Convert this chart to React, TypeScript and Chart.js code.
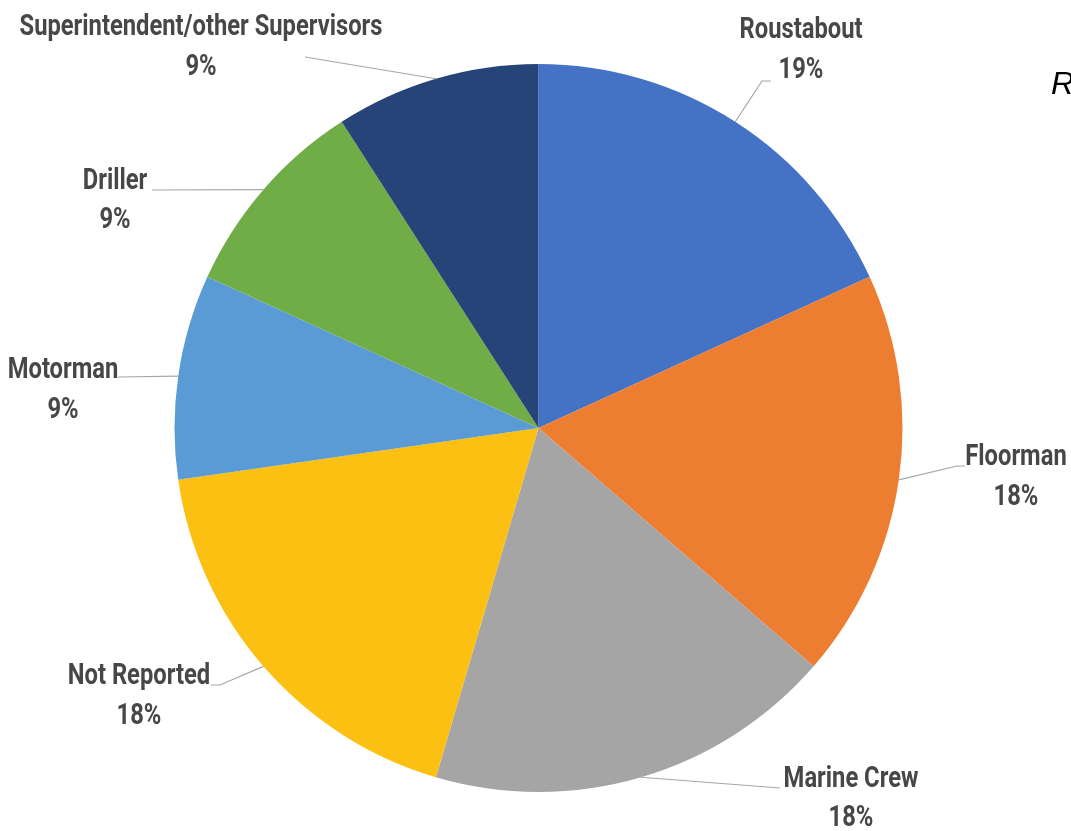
import React, { useEffect, useRef } from "react";
import { Chart, registerables } from "chart.js";

Chart.register(...registerables);

const categories = [
  "Roustabout",
  "Floorman",
  "Marine Crew",
  "Not Reported",
  "Motorman",
  "Driller",
  "Superintendent/other Supervisors",
];
const counts = [2, 2, 2, 2, 1, 1, 1];
const percentLabels = ["19%", "18%", "18%", "18%", "9%", "9%", "9%"];
const colors = ["#4472C4", "#ED7D31", "#A5A5A5", "#FBC012", "#5B9BD5", "#70AD47", "#264478"];

// label layout: text centre x, name baseline, percent baseline, leader-line points (after the pie edge point)
const labelLayout = [
  { x: 801, y1: 38, y2: 78, pts: [[762, 81], [771, 81]] },
  { x: 1016, y1: 465, y2: 505, pts: [[957, 466], [965, 466]] },
  { x: 851, y1: 787, y2: 826, pts: [[780, 788]] },
  { x: 139, y1: 684, y2: 724, pts: [[220, 685], [211, 685]] },
  { x: 63, y1: 378, y2: 418, pts: [[118, 377]] },
  { x: 115, y1: 189, y2: 228, pts: [[152, 190]] },
  { x: 201, y1: 35, y2: 75, pts: [[305, 57]] },
];

const labelFont = "bold 30px Roboto, 'DejaVu Sans', sans-serif";
const longestLabelWidth = 363; // condensed look: widest label's drawn width

const labelPlugin = {
  id: "pieLabels",
  afterDraw(chart: any) {
    const ctx = chart.ctx;
    const meta = chart.getDatasetMeta(0);
    ctx.save();
    ctx.font = labelFont;
    const sx = longestLabelWidth / ctx.measureText(categories[6]).width;
    meta.data.forEach((arc: any, i: number) => {
      const p = arc.getProps(["x", "y", "startAngle", "endAngle", "outerRadius"], true);
      const mid = (p.startAngle + p.endAngle) / 2;
      const ex = p.x + Math.cos(mid) * p.outerRadius;
      const ey = p.y + Math.sin(mid) * p.outerRadius;
      const L = labelLayout[i];
      ctx.strokeStyle = "#A6A6A6";
      ctx.lineWidth = 1.2;
      ctx.beginPath();
      ctx.moveTo(ex, ey);
      L.pts.forEach((pt) => ctx.lineTo(pt[0], pt[1]));
      ctx.stroke();
      ctx.fillStyle = "#474747";
      ctx.font = labelFont;
      ctx.textAlign = "center";
      ctx.textBaseline = "alphabetic";
      ctx.save();
      ctx.translate(L.x, 0);
      ctx.scale(sx, 1);
      ctx.fillText(categories[i], 0, L.y1);
      ctx.fillText(percentLabels[i], 0, L.y2);
      ctx.restore();
    });
    ctx.fillStyle = "#000";
    ctx.font = "italic 32px 'Liberation Sans', sans-serif";
    ctx.textAlign = "left";
    ctx.textBaseline = "alphabetic";
    ctx.fillText("R", 1051, 94);
    ctx.restore();
  },
};

export default function App() {
  const ref = useRef<HTMLCanvasElement>(null);
  useEffect(() => {
    if (!ref.current) return;
    const chart = new Chart(ref.current, {
      type: "pie",
      data: {
        labels: categories,
        datasets: [
          {
            data: counts,
            backgroundColor: colors,
            borderWidth: 0,
          },
        ],
      },
      options: {
        responsive: false,
        animation: false,
        layout: { padding: { left: 174, right: 168, top: 64, bottom: 39 } },
        plugins: {
          legend: { display: false },
          tooltip: { enabled: false },
        },
      },
      plugins: [labelPlugin],
    });
    return () => chart.destroy();
  }, []);
  return (
    <div style={{ position: "absolute", left: 0, top: 0, width: 1071, height: 831, background: "#fff" }}>
      <canvas ref={ref} width={1071} height={831} style={{ display: "block" }} />
    </div>
  );
}
